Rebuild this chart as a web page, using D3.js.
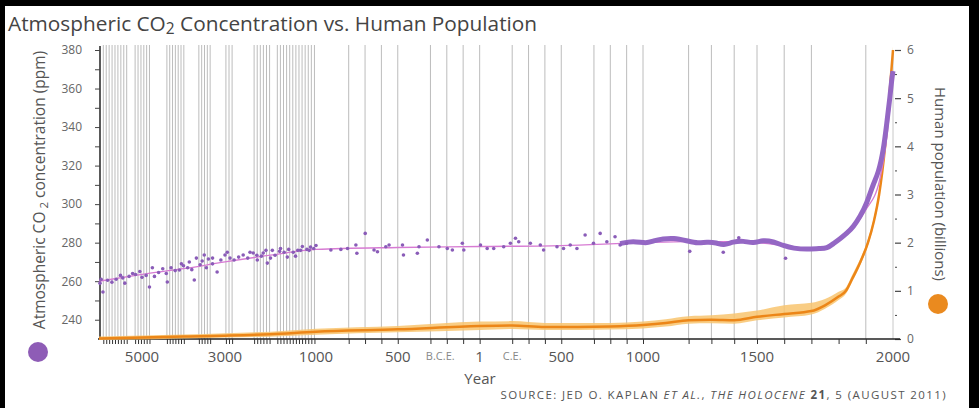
<!DOCTYPE html>
<html>
<head>
<meta charset="utf-8">
<script src="https://cdn.jsdelivr.net/npm/d3@7"></script>
<style>
  body { margin: 0; background: #fff; }
  svg { display: block; font-family: "Open Sans", sans-serif; }
</style>
</head>
<body>
<div id="chart"></div>
<script>
const co2SmoothYears = [-6000, -5000, -4000, -3000, -2000, -1000, -500, 1, 500, 1000, 1200, 1400, 1500, 1600, 1700, 1750, 1800, 1850, 1900, 1950, 1980, 2000];
const co2SmoothPpm   = [260, 263.5, 266.5, 270, 273.5, 276.5, 277.5, 278, 278.5, 280, 280.5, 280.5, 280, 278.5, 277, 277.5, 282, 287, 297, 312, 338, 369];

// ice core samples (scattered dots)
const co2DotYears = [-5977, -5950, -5908, -5800, -5700, -5600, -5500, -5448, -5400, -5300, -5218, -5150, -5050, -5000, -4900, -4820, -4750, -4700, -4600, -4500, -4415, -4390, -4300, -4200, -4100, -4050, -4000, -3900, -3860, -3800, -3740, -3690, -3600, -3550, -3500, -3450, -3400, -3300, -3300, -3190, -3100, -3000, -2950, -2890, -2800, -2700, -2600, -2500, -2450, -2380, -2300, -2290, -2200, -2160, -2100, -2070, -2000, -1960, -1900, -1800, -1780, -1700, -1630, -1600, -1500, -1450, -1400, -1340, -1300, -1200, -1150, -1120, -1050, -1000, -909, -848, -807, -756, -750, -699, -645, -624, -573, -553, -471, -465, -380, -370, -319, -248, -197, -166, -105, -96, 6, 47, 87, 148, 189, 220, 240, 311, 372, 392, 474, 514, 555, 596, 646, 697, 738, 779, 829, 860, 900, 1205, 1352, 1420, 1605];
const co2DotPpm   = [259, 261, 254.4, 260.5, 259.5, 261, 263, 261.7, 259, 262.5, 264, 263.5, 265, 262, 263, 257, 267, 262.5, 264.5, 266.5, 264, 259.6, 267, 265.5, 265.8, 269, 268, 267, 270, 266, 260.6, 272, 268.5, 270.5, 273.6, 267, 271.5, 272, 269, 264.8, 271, 273.6, 275, 272, 271, 272.5, 273.6, 272, 275, 274.6, 273.5, 271, 273, 274.6, 276, 269.4, 272, 276, 273.5, 275.5, 277, 275, 272.5, 276.5, 275, 273, 276, 276, 278, 276.5, 276, 277.7, 277, 278.5, 276.2, 276.5, 277, 278.8, 274.5, 284.8, 276.2, 275.3, 277.9, 278.8, 278.8, 273.6, 274.5, 277.9, 281.4, 277.9, 277, 276.2, 279.7, 276.2, 278.8, 277, 277, 277.9, 279.7, 282.3, 280.5, 279.7, 278.8, 276.2, 277.9, 277, 278.8, 277, 284, 279.7, 284.8, 280.5, 283.1, 278.8, 279.7, 275.5, 275, 282.5, 271.9];

// dense high-resolution record, last millennium
const co2DenseYears = [860, 940, 1016, 1045, 1089, 1133, 1192, 1243, 1279, 1323, 1352, 1396, 1440, 1484, 1523, 1560, 1597, 1634, 1683, 1732, 1757, 1781, 1805, 1830, 1855, 1879, 1904, 1928, 1946, 1965, 1977, 1989, 1995, 2000];
const co2DensePpm   = [279.5, 281, 279.5, 281, 282, 282.5, 281, 279.5, 280.5, 280, 278.5, 280.5, 281, 279.5, 281.5, 280.5, 278.5, 277, 276.5, 277, 277, 279.5, 282, 284.8, 288.3, 293.5, 300.4, 310.8, 316, 328, 341.9, 355.7, 364.4, 369];

// human population (billions), central estimate and range
const popYears = [-6000, -5000, -4000, -3000, -2000, -1000, -500, 1, 200, 400, 600, 800, 1000, 1100, 1200, 1300, 1400, 1500, 1600, 1700, 1750, 1800, 1827, 1850, 1880, 1908, 1930, 1949, 1960, 1971, 1986, 2000];
const popMid   = [0.01, 0.03, 0.05, 0.07, 0.1, 0.15, 0.2, 0.27, 0.28, 0.25, 0.25, 0.26, 0.29, 0.33, 0.39, 0.4, 0.39, 0.46, 0.52, 0.58, 0.7, 0.88, 1.0, 1.25, 1.6, 2.0, 2.45, 3.0, 3.45, 4.0, 5.0, 6.0];
const popLow   = [0.01, 0.02, 0.04, 0.06, 0.08, 0.12, 0.17, 0.22, 0.24, 0.22, 0.22, 0.23, 0.25, 0.29, 0.35, 0.36, 0.35, 0.42, 0.48, 0.54, 0.66, 0.84, 0.97, 1.22, 1.57, 1.97, 2.42, 2.97, 3.42, 3.97, 4.97, 5.97];
const popHigh  = [0.02, 0.04, 0.06, 0.09, 0.12, 0.18, 0.24, 0.33, 0.34, 0.3, 0.3, 0.3, 0.33, 0.38, 0.44, 0.46, 0.5, 0.56, 0.67, 0.72, 0.8, 0.95, 1.04, 1.3, 1.64, 2.04, 2.5, 3.04, 3.5, 4.04, 5.04, 6.04];

// axis labels
const xLabelYears = [-5000, -3000, -1000, -500, 1, 500, 1000, 1500, 2000];
const xLabelText  = ["5000", "3000", "1000", "500", "1", "500", "1000", "1500", "2000"];
const eraYears = [-240, 200];
const eraText  = ["B.C.E.", "C.E."];
const gridClusters = [[-5900, -5350], [-5160, -4760], [-4400, -3990], [-3630, -3310], [-2980, -2800], [-2360, -1990], [-1850, -1000]];
const gridYearsRight = [-800, -700, -600, -500, -300, -200, -100, 1, 200, 300, 400, 500, 700, 800, 900, 1000, 1200, 1300, 1400, 1500, 1600, 1700, 1900];

var W = 979, H = 408;

// the time axis is stretched unevenly in the original, so use a polylinear scale
var x = d3.scaleLinear()
    .domain([-6000, -5000, -3000, -1000, 1000, 1500, 2000])
    .range([99, 142, 225, 316, 643, 757, 893]);
var yCo2 = d3.scaleLinear().domain([230, 380]).range([339, 50]);
var yPop = d3.scaleLinear().domain([0, 6]).range([339, 50]);

var gridYears = [];
gridClusters.forEach(c => { gridYears = gridYears.concat(d3.range(c[0], c[1] + 1, 68)); });
gridYears = gridYears.concat(gridYearsRight);

var svg = d3.select("#chart").append("svg")
    .attr("width", W)
    .attr("height", H);

svg.append("rect").attr("width", W).attr("height", H).attr("fill", "#fff");

// title
var title = svg.append("text")
    .attr("x", 8).attr("y", 31)
    .attr("font-size", 20.8).attr("fill", "#444");
title.append("tspan").text("Atmospheric CO");
title.append("tspan").attr("font-size", 15.5).attr("dy", 3).text("2");
title.append("tspan").attr("dy", -3).text(" Concentration vs. Human Population");

// vertical grid
svg.append("g").selectAll("line")
    .data(gridYears)
    .enter().append("line")
    .attr("x1", d => x(d)).attr("x2", d => x(d))
    .attr("y1", 45).attr("y2", 339)
    .attr("stroke", "#bcbcbc")
    .attr("stroke-width", 1);

// left axis
var leftAxis = d3.axisLeft(yCo2)
    .tickValues(d3.range(240, 381, 10))
    .tickSize(5)
    .tickFormat(d => d % 20 === 0 ? d : "");
var gl = svg.append("g").attr("transform", "translate(100,0)").call(leftAxis);
gl.select(".domain").attr("d", "M0,46V339").attr("stroke", "#222").attr("stroke-width", 1.5);
gl.selectAll(".tick line").attr("stroke", "#444");
gl.selectAll(".tick text").attr("x", -18).attr("font-size", 12).attr("fill", "#666")
    .attr("font-family", "'Open Sans', sans-serif");

// right axis
var rightAxis = d3.axisRight(yPop)
    .tickValues(d3.range(0, 6.01, 0.5))
    .tickSize(0)
    .tickFormat(d => Number.isInteger(d) ? d : "");
var gr = svg.append("g").attr("transform", "translate(893,0)").call(rightAxis);
gr.select(".domain").attr("d", "M0,50V339").attr("stroke", "#c8c8c8").attr("stroke-width", 1);
gr.selectAll(".tick").append("line")
    .attr("x1", 2).attr("x2", d => Number.isInteger(d) ? 8 : 4)
    .attr("stroke", "#444").attr("stroke-width", d => Number.isInteger(d) ? 1.2 : 1);
gr.selectAll(".tick text").attr("x", 14).attr("font-size", 12).attr("fill", "#666")
    .attr("font-family", "'Open Sans', sans-serif");

// bottom axis
var xAxis = d3.axisBottom(x)
    .tickValues(gridYears.concat([1800]))
    .tickSize(5)
    .tickFormat("");
var gx = svg.append("g").attr("transform", "translate(0,339)").call(xAxis);
gx.select(".domain").attr("d", "M98,0H900").attr("stroke", "#222").attr("stroke-width", 1.5);
gx.selectAll(".tick line").attr("stroke", "#333");

svg.append("g").selectAll("text")
    .data(xLabelYears)
    .enter().append("text")
    .attr("x", d => x(d)).attr("y", 362)
    .attr("text-anchor", "middle")
    .attr("font-size", 15).attr("fill", "#555")
    .text((d, i) => xLabelText[i]);

svg.append("g").selectAll("text")
    .data(eraYears)
    .enter().append("text")
    .attr("x", d => x(d)).attr("y", 360)
    .attr("text-anchor", "middle")
    .attr("font-size", 11).attr("fill", "#888")
    .text((d, i) => eraText[i]);

svg.append("text")
    .attr("x", 480).attr("y", 384)
    .attr("text-anchor", "middle")
    .attr("font-size", 15).attr("fill", "#555")
    .text("Year");

// population range + line
var popRows = popYears.map((d, i) => ({ year: d, mid: popMid[i], lo: popLow[i], hi: popHigh[i] }));

svg.append("path")
    .datum(popRows)
    .attr("fill", "#f8c46e")
    .attr("opacity", 0.85)
    .attr("d", d3.area()
        .curve(d3.curveMonotoneX)
        .x(d => x(d.year))
        .y0(d => yPop(d.lo) + 1.5)
        .y1(d => yPop(d.hi) - 1.5));

svg.append("path")
    .datum(popRows)
    .attr("fill", "none")
    .attr("stroke", "#ec8618")
    .attr("stroke-width", 2.5)
    .attr("d", d3.line()
        .curve(d3.curveMonotoneX)
        .x(d => x(d.year))
        .y(d => yPop(d.mid)));

// CO2: smooth spline, dense record, samples
var smoothRows = co2SmoothYears.map((d, i) => ({ year: d, ppm: co2SmoothPpm[i] }));
svg.append("path")
    .datum(smoothRows)
    .attr("fill", "none")
    .attr("stroke", "#d77bd3")
    .attr("stroke-width", 1.3)
    .attr("d", d3.line()
        .curve(d3.curveMonotoneX)
        .x(d => x(d.year))
        .y(d => yCo2(d.ppm)));

var denseRows = co2DenseYears.map((d, i) => ({ year: d, ppm: co2DensePpm[i] }));
svg.append("path")
    .datum(denseRows)
    .attr("fill", "none")
    .attr("stroke", "#9467c4")
    .attr("stroke-width", 5)
    .attr("stroke-linejoin", "round")
    .attr("d", d3.line()
        .curve(d3.curveBasis)
        .x(d => x(d.year))
        .y(d => yCo2(d.ppm)));

svg.append("g").selectAll("circle")
    .data(co2DotYears)
    .enter().append("circle")
    .attr("cx", d => x(d))
    .attr("cy", (d, i) => yCo2(co2DotPpm[i]))
    .attr("r", 1.8)
    .attr("fill", "#8a5cb8");

// axis titles with colour keys
var lt = svg.append("text")
    .attr("transform", "translate(45,190) rotate(-90)")
    .attr("text-anchor", "middle")
    .attr("font-size", 15.5).attr("fill", "#555");
lt.append("tspan").text("Atmospheric CO");
lt.append("tspan").attr("font-size", 11.5).attr("dy", 3).text(" 2");
lt.append("tspan").attr("dy", -3).text(" concentration (ppm)");
svg.append("circle").attr("cx", 38).attr("cy", 352).attr("r", 10).attr("fill", "#8e5cb6");

svg.append("text")
    .attr("transform", "translate(935,184) rotate(90)")
    .attr("text-anchor", "middle")
    .attr("font-size", 15).attr("fill", "#555")
    .text("Human population (billions)");
svg.append("circle").attr("cx", 938).attr("cy", 304).attr("r", 10).attr("fill", "#ea8a1f");

// source
var src = svg.append("text")
    .attr("x", 947).attr("y", 399)
    .attr("text-anchor", "end")
    .attr("font-size", 11.5).attr("letter-spacing", 1.4).attr("fill", "#555");
src.append("tspan").text("SOURCE: JED O. KAPLAN ");
src.append("tspan").attr("font-style", "italic").text("ET AL.");
src.append("tspan").text(", ");
src.append("tspan").attr("font-style", "italic").text("THE HOLOCENE ");
src.append("tspan").attr("font-weight", "bold").text("21");
src.append("tspan").text(", 5 (AUGUST 2011)");

// dark edges of the scanned figure
svg.append("rect").attr("x", 0).attr("y", 0).attr("width", W).attr("height", 6).attr("fill", "#000");
svg.append("rect").attr("x", 0).attr("y", 0).attr("width", 5).attr("height", H).attr("fill", "#000");
svg.append("rect").attr("x", 969).attr("y", 0).attr("width", 10).attr("height", H).attr("fill", "#000");
</script>
</body>
</html>
